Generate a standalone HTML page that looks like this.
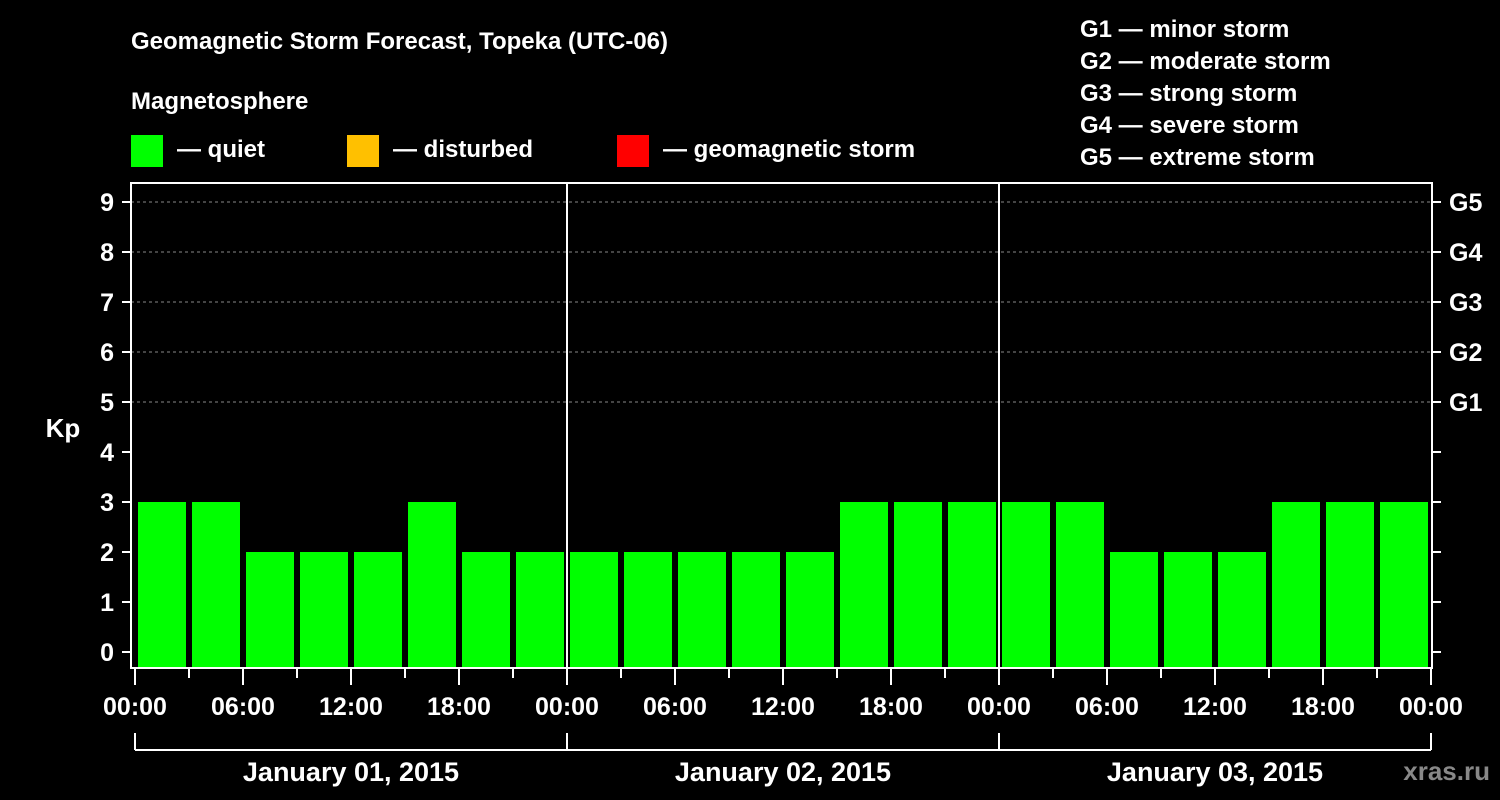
<!DOCTYPE html>
<html><head><meta charset="utf-8"><style>
html,body{margin:0;padding:0;background:#000;}
svg{display:block;font-family:"Liberation Sans",sans-serif;font-weight:bold;}
</style></head><body>
<svg id="c" width="1500" height="800" xmlns="http://www.w3.org/2000/svg">
<rect width="1500" height="800" fill="#000"/>
<text x="131" y="49" fill="#fff" font-size="24">Geomagnetic Storm Forecast, Topeka (UTC-06)</text>
<text x="131" y="109" fill="#fff" font-size="24">Magnetosphere</text>
<g><rect x="131" y="135" width="32" height="32" fill="#00ff00"/><text x="177" y="157" fill="#fff" font-size="24">— quiet</text></g>
<g><rect x="347" y="135" width="32" height="32" fill="#ffc000"/><text x="393" y="157" fill="#fff" font-size="24">— disturbed</text></g>
<g><rect x="617" y="135" width="32" height="32" fill="#ff0000"/><text x="663" y="157" fill="#fff" font-size="24">— geomagnetic storm</text></g>
<g fill="#fff" font-size="24">
<text x="1080" y="37">G1 — minor storm</text>
<text x="1080" y="69">G2 — moderate storm</text>
<text x="1080" y="101">G3 — strong storm</text>
<text x="1080" y="133">G4 — severe storm</text>
<text x="1080" y="165">G5 — extreme storm</text>
</g>
<text x="63" y="437" fill="#fff" font-size="26" text-anchor="middle">Kp</text>
<text x="1490" y="780" fill="#888" font-size="26" text-anchor="end">xras.ru</text>
<g id="plot"></g>
</svg>
<script>
const values = [3,3,2,2,2,3,2,2, 2,2,2,2,2,3,3,3, 3,3,2,2,2,3,3,3];
const dayLabels = ["January 01, 2015","January 02, 2015","January 03, 2015"];
const hourLabels = ["00:00","06:00","12:00","18:00"];
const kpTicks = [0,1,2,3,4,5,6,7,8,9];
const gLabels = ["G1","G2","G3","G4","G5"];

const NS="http://www.w3.org/2000/svg";
const g=document.getElementById('plot');
const X0=135, DAY=432, L=131, R=1432, T=183, B=668;
const xs=h=>X0+h*DAY/24;
const ys=v=>652-50*v;
function mk(tag,attrs,parent){const e=document.createElementNS(NS,tag);for(const k in attrs)e.setAttribute(k,attrs[k]);(parent||g).appendChild(e);return e;}

// gridlines for G levels
for(let k=5;k<=9;k++){
  const l=mk('line',{x1:L,x2:R,y1:ys(k),y2:ys(k),stroke:'#888','stroke-dasharray':'3,3','stroke-width':1});
  
  
}
// bars
values.forEach((v,i)=>{
  const x=xs(i*3)+3, w=xs(3)-xs(0)-6;
  const c=v>=5?'#ff0000':(v>=4?'#ffc000':'#00ff00');
  const r=mk('rect',{x:x,y:ys(v),width:w,height:B-ys(v),fill:c});
  
  
});
// frame
const fr=mk('rect',{x:L,y:T,width:R-L,height:B-T,fill:'none',stroke:'#fff','stroke-width':2});


// day separators
for(let d=1;d<dayLabels.length;d++){
  const l=mk('line',{x1:xs(d*24),x2:xs(d*24),y1:T,y2:B,stroke:'#fff','stroke-width':2});
  
  
}
// y ticks
kpTicks.forEach(k=>{
  mk('line',{x1:122,x2:L,y1:ys(k),y2:ys(k),stroke:'#fff','stroke-width':2});
  mk('line',{x1:R,x2:1441,y1:ys(k),y2:ys(k),stroke:'#fff','stroke-width':2});
  const t=mk('text',{x:114,y:ys(k)+9,fill:'#fff','font-size':25,'text-anchor':'end'});
  t.textContent=k;
  
  
});
gLabels.forEach((s,i)=>{
  const t=mk('text',{x:1449,y:ys(5+i)+9,fill:'#fff','font-size':25});
  t.textContent=s;
  
  
});
// x ticks
const nd=dayLabels.length;
for(let h=0;h<=nd*24;h+=3){
  const major=h%6===0;
  mk('line',{x1:xs(h),x2:xs(h),y1:B,y2:major?685:678,stroke:'#fff','stroke-width':2});
  if(major){
    const t=mk('text',{x:xs(h),y:715,fill:'#fff','font-size':25,'text-anchor':'middle'});
    t.textContent=hourLabels[(h%24)/6];
    
    
  }
}
// day brackets
dayLabels.forEach((s,d)=>{
  mk('line',{x1:xs(d*24),x2:xs(d*24+24),y1:750,y2:750,stroke:'#fff','stroke-width':2});
  mk('line',{x1:xs(d*24),x2:xs(d*24),y1:733,y2:750,stroke:'#fff','stroke-width':2});
  const t=mk('text',{x:xs(d*24+12),y:781,fill:'#fff','font-size':27,'text-anchor':'middle'});
  t.textContent=s;
  
  
});
mk('line',{x1:xs(nd*24),x2:xs(nd*24),y1:733,y2:750,stroke:'#fff','stroke-width':2});
</script>
</body></html>
